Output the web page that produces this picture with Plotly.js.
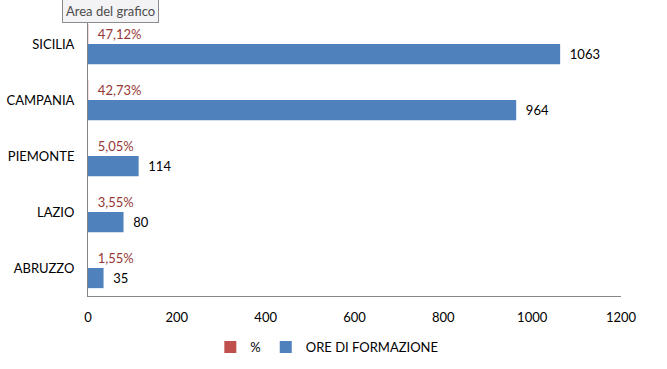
<!DOCTYPE html>
<html>
<head>
<meta charset="utf-8">
<script src="https://cdn.plot.ly/plotly-3.0.1.min.js"></script>
<style>html,body{margin:0;padding:0;background:#fff;}#chart{width:667px;height:369px;}</style>
</head>
<body>
<div id="chart"></div>
<script>
const regions = ["SICILIA", "CAMPANIA", "PIEMONTE", "LAZIO", "ABRUZZO"];
const percentShare = [0.4712, 0.4273, 0.0505, 0.0355, 0.0155];
const percentLabels = ["47,12%", "42,73%", "5,05%", "3,55%", "1,55%"];
const trainingHours = [1063, 964, 114, 80, 35];
const xTicks = [0, 200, 400, 600, 800, 1000, 1200];

const FONT = "Lato, 'Open Sans', sans-serif";
const pad = "\u00a0\u00a0";

const traces = [
  {
    type: "bar", orientation: "h", name: "%",
    y: regions, x: percentShare,
    marker: {color: "#C0504D"},
    text: percentLabels.map(t => pad + t),
    textposition: "outside", constraintext: "none", cliponaxis: false,
    textfont: {family: FONT, size: 13, color: "#953735"},
    hoverinfo: "skip"
  },
  {
    type: "bar", orientation: "h", name: "ORE DI FORMAZIONE",
    y: regions, x: trainingHours,
    marker: {color: "#4F81BD"},
    text: trainingHours.map(v => pad + v),
    textposition: "outside", constraintext: "none", cliponaxis: false,
    textfont: {family: FONT, size: 13, color: "#000"},
    hoverinfo: "skip"
  }
];

const layout = {
  width: 667, height: 369,
  margin: {l: 88, r: 46, t: 16, b: 73},
  paper_bgcolor: "#fff", plot_bgcolor: "#fff",
  font: {family: FONT, size: 13, color: "#000"},
  barmode: "group", bargap: 0.28, bargroupgap: 0,
  showlegend: true,
  legend: {orientation: "h", xref: "container", yref: "container",
           x: 0.49, xanchor: "center", y: 0.1, yanchor: "top",
           font: {family: FONT, size: 13, color: "#000"}, itemwidth: 30, traceorder: "normal"},
  xaxis: {range: [0, 1200], tickvals: xTicks, ticktext: xTicks.map(String),
          showgrid: false, zeroline: false, showline: true, linecolor: "#868686", linewidth: 1,
          ticks: "", ticklabelstandoff: 9, tickfont: {family: FONT, size: 13, color: "#000"}},
  yaxis: {autorange: "reversed", showgrid: false, zeroline: false, showline: true,
          linecolor: "#868686", linewidth: 1, ticks: "", ticklabelstandoff: 10,
          tickfont: {family: FONT, size: 13, color: "#000"}},
  annotations: [{
    xref: "paper", yref: "paper", x: -0.049, y: 1.06, xanchor: "left", yanchor: "top",
    text: "Area del grafico", showarrow: false,
    font: {family: FONT, size: 13, color: "#4c4c4c"},
    bgcolor: "#f3f3f6", bordercolor: "#8c8c8c", borderwidth: 1, borderpad: 3
  }]
};

Plotly.newPlot("chart", traces, layout, {displayModeBar: false, staticPlot: true});
</script>
</body>
</html>
